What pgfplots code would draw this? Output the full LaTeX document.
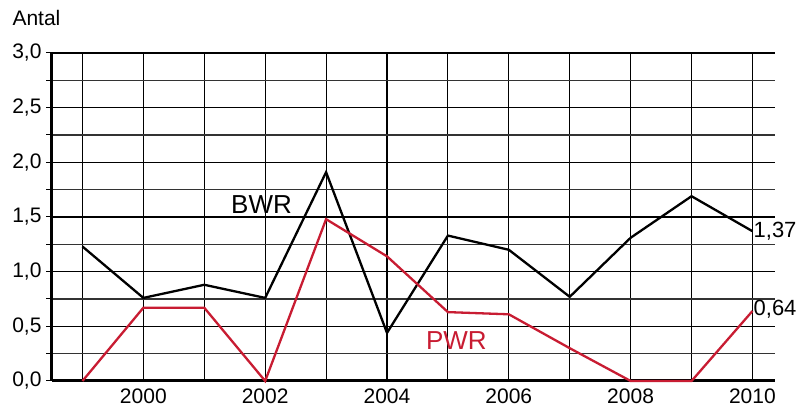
\documentclass[border=0pt]{standalone}
\usepackage{pgfplots}
\pgfplotsset{compat=1.18}
\usepackage{fontspec}
\setmainfont{Liberation Sans}
\definecolor{pwr}{RGB}{200,28,50}
\begin{document}
\begin{tikzpicture}
\begin{axis}[
  name=ax,
  scale only axis,
  width=723pt, height=328pt,
  xmin=1998.5, xmax=2010.37,
  ymin=0, ymax=3,
  axis x line=bottom, axis y line=left,
  axis line style={line width=3pt,-},
  x axis line style={-}, y axis line style={-},
  xtick={1999,...,2010},
  xticklabels={,2000,,2002,,2004,,2006,,2008,,2010},
  ytick={0,0.5,...,3},
  minor ytick={0.25,0.75,...,2.75},
  tick align=outside,
  major tick length=6pt, minor tick length=6pt,
  xtick style={draw=none},
  ytick style={line width=1pt,black},
  minor tick style={line width=1pt,black},
  grid=both,
  major grid style={line width=1.1pt,black},
  minor grid style={line width=1.1pt,black!80},
  yticklabel style={xshift=-1pt,/pgf/number format/.cd,use comma,fixed,fixed zerofill,precision=1},
  /pgf/number format/assume math mode=true,
  ticklabel style={font=\fontsize{21}{24}\selectfont},
  xticklabel style={yshift=1.5pt},
  clip=false,
]
\addplot[black,line width=2.3pt] coordinates {
(1999,1.23) (2000,0.76) (2001,0.88) (2002,0.76) (2003,1.91) (2004,0.44)
(2005,1.33) (2006,1.20) (2007,0.77) (2008,1.31) (2009,1.69) (2010,1.37)};
\addplot[pwr,line width=2.3pt] coordinates {
(1999,0) (2000,0.67) (2001,0.67) (2002,0) (2003,1.48) (2004,1.14)
(2005,0.63) (2006,0.61) (2007,0.30) (2008,0) (2009,0) (2010,0.64)};
\node[font=\fontsize{26}{28}\selectfont] at (axis cs:2001.94,1.61) {BWR};
\node[font=\fontsize{26}{28}\selectfont,text=pwr] at (axis cs:2005.14,0.37) {PWR};
\node[anchor=west,font=\fontsize{22}{24}\selectfont,inner sep=1pt] at (axis cs:2010,1.37) {1,37};
\node[anchor=west,font=\fontsize{22}{24}\selectfont,inner sep=1pt] at (axis cs:2010,0.66) {0,64};
\node[anchor=west,font=\fontsize{21}{24}\selectfont,xshift=-43pt,yshift=35pt] at (rel axis cs:0,1) {Antal};
\end{axis}
\pgfresetboundingbox
\path ([xshift=-52pt,yshift=-28pt]ax.south west) rectangle ([xshift=749pt,yshift=381pt]ax.south west);
\end{tikzpicture}
\end{document}
